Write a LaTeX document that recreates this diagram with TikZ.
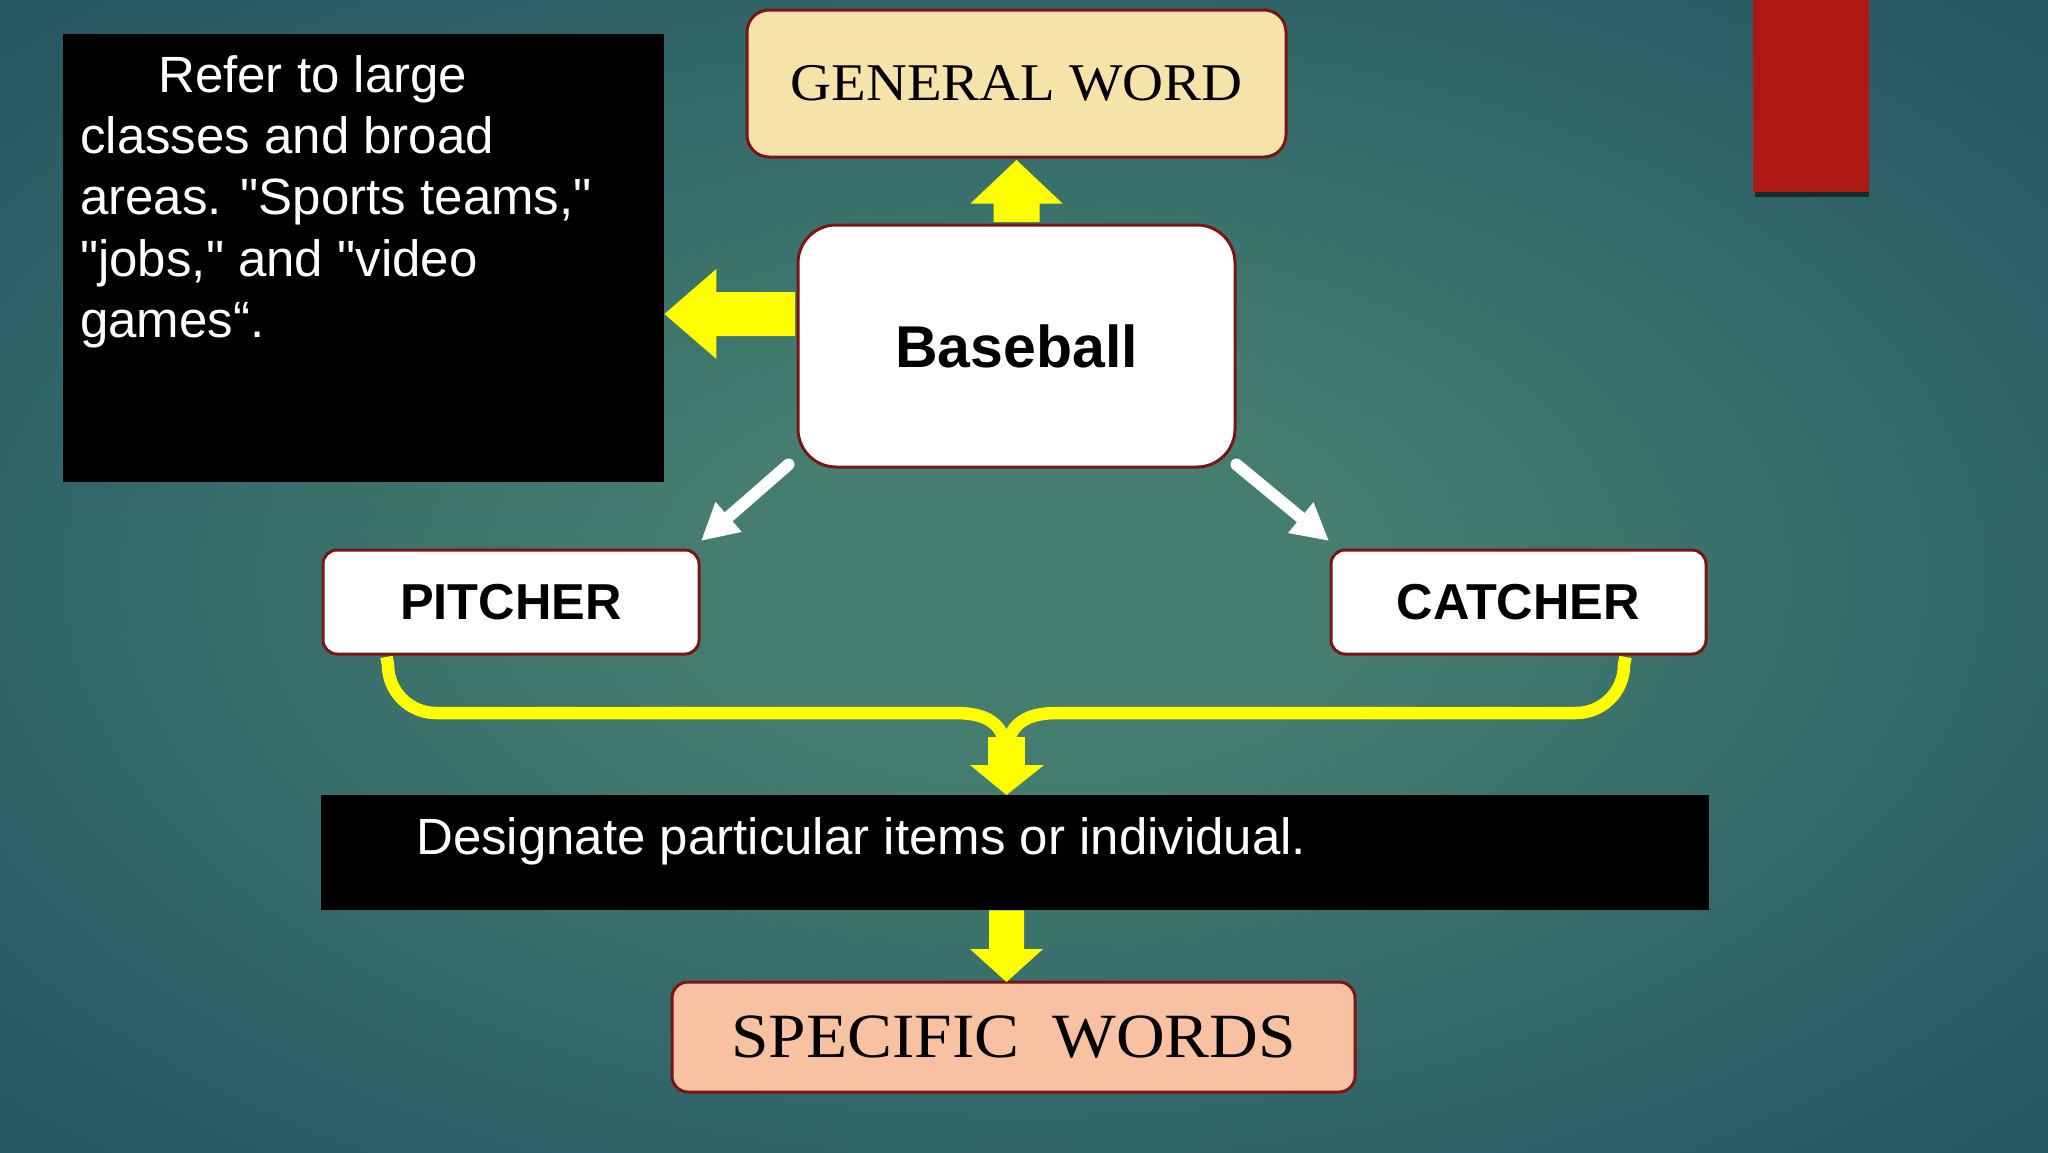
\documentclass[tikz,border=0pt]{standalone}
\usepackage{fontspec}
\setmainfont{Liberation Serif}
\newfontfamily\wideserif[FakeStretch=1.07]{Liberation Serif}
\newfontfamily\arial{Liberation Sans}
\usetikzlibrary{arrows.meta,calc}
\definecolor{bgc}{HTML}{457E70}
\definecolor{bgm}{HTML}{2D6167}
\definecolor{bge}{HTML}{1C4856}
\definecolor{bgk}{HTML}{113545}
\definecolor{bord}{HTML}{7B1515}
\definecolor{genfill}{HTML}{F5E3AA}
\definecolor{specfill}{HTML}{F8C1A2}
\definecolor{redbar}{HTML}{AE1812}
\definecolor{yel}{HTML}{FFFF00}
\pgfdeclareradialshading{bgshade}{\pgfpoint{0bp}{0bp}}{color(0bp)=(bgc); color(8bp)=(bgc); color(27bp)=(bgm); color(46bp)=(bge); color(72bp)=(bgk)}
\begin{document}
\begin{tikzpicture}[x=1pt,y=-1pt,
  wordbox/.style={draw=bord, line width=3pt, inner sep=0pt, align=center},
  ltext/.style={text=white, inner sep=0pt, font=\arial\fontsize{51}{61.4}\selectfont},
  boldtext/.style={font=\arial\bfseries\fontsize{#1}{#1}\selectfont},
  serifword/.style={font=\wideserif\fontsize{#1}{#1}\selectfont},
  blackbox/.style={fill=black, inner sep=0pt, anchor=north west},
  warrow/.style={draw=white, line width=12pt, line cap=round, -{Triangle[length=36pt,width=40pt,line width=0pt]}}
]
\shade[shading=bgshade] (0,0) rectangle (2048,1152);
\useasboundingbox (0,0) rectangle (2048,1152);

% red bar top right
\fill[black, opacity=0.55] (1755,0) rectangle (1869,197);
\node[fill=redbar, inner sep=0pt, minimum width=116pt, minimum height=192pt, anchor=north west] (bar) at (1753,0) {};

% black boxes
\node[blackbox, minimum width=601pt, minimum height=448pt] (lbox) at (63,34) {};
\node[blackbox, minimum width=1388pt, minimum height=115pt] (desbox) at (321,795) {};

% texts in left black box
\node[ltext, anchor=base west] (l1) at (158,92) {Refer to large};
\node[ltext, anchor=base west] (l2) at (80,153.4) {classes and broad};
\node[ltext, anchor=base west] (l3) at (80,214.8) {areas. "Sports teams,"};
\node[ltext, anchor=base west] (l4) at (80,276.2) {"jobs," and "video};
\node[ltext, anchor=base west] (l5) at (80,337.6) {games“.};
\node[ltext, anchor=base west] (destext) at (416,854) {Designate particular items or individual.};

% word boxes
\node[wordbox, fill=genfill, rounded corners=22pt, minimum width=539pt, minimum height=147pt,
      serifword=53] (gen) at (1016.5,83.5) {GENERAL WORD};
\node[wordbox, fill=white, rounded corners=38pt, minimum width=437pt, minimum height=242pt,
      boldtext=59] (base) at (1016.5,346) {Baseball};
\node[wordbox, fill=white, rounded corners=14pt, minimum width=376pt, minimum height=104pt,
      boldtext=50.5] (pitch) at (511,602) {PITCHER};
\node[wordbox, fill=white, rounded corners=14pt, minimum width=375pt, minimum height=104pt,
      boldtext=50.5] (catch) at (1518.5,602) {CATCHER};
\node[wordbox, fill=specfill, rounded corners=16pt, minimum width=683pt, minimum height=110pt,
      serifword=63] (spec) at (1013.5,1037) {SPECIFIC\hspace{33pt}WORDS};

% up arrow: Baseball -> GENERAL WORD
\fill[yel] ($(base.north)+(-23,-1.5)$) -- ($(gen.south)+(-23,45)$) -- ($(gen.south)+(-46,45)$)
  -- ($(gen.south)+(0,1.5)$) -- ($(gen.south)+(46,45)$) -- ($(gen.south)+(23,45)$)
  -- ($(base.north)+(23,-1.5)$) -- cycle;

% left arrow: Baseball -> left box
\coordinate (la) at ($(base.west)+(-1.5,-32)$);
\coordinate (lt) at (lbox.east |- la);
\fill[yel] ($(la)+(0,-22)$) -- ($(lt)+(52,-22)$) -- ($(lt)+(52,-45)$) -- (lt)
  -- ($(lt)+(52,45)$) -- ($(lt)+(52,22)$) -- ($(la)+(0,22)$) -- cycle;

% white arrows
\draw[warrow] ($(base.south west)+(-8,-4)$) -- ($(pitch.north east)+(1,-8)$);
\draw[warrow] ($(base.south east)+(0,-4)$) -- ($(catch.north west)+(-1,-8)$);

% yellow bracket
\coordinate (pb) at ($(pitch.south west)+(65,1.5)$);
\coordinate (cb) at ($(catch.south east)+(-82,1.5)$);
\coordinate (m) at (1006.5,748);
\draw[yel, line width=12.5pt] (pb) -- (388,665) .. controls (388,691.5) and (409.5,713) .. (436,713)
  -- (955,713) .. controls (985,713) and (1002,722) .. (m);
\draw[yel, line width=12.5pt] (cb) -- (1624,665) .. controls (1624,691.5) and (1602.5,713) .. (1576,713)
  -- (1058,713) .. controls (1028,713) and (1011,722) .. (m);
\fill[yel] (988,737) rectangle (1025,766);
\fill[yel] (970,765) -- (1044,765) -- (m |- desbox.north) -- cycle;

% down arrow: black box -> SPECIFIC WORDS
\coordinate (dd) at (m |- desbox.south);
\coordinate (ds) at ($(m |- spec.north)+(0,1.5)$);
\fill[yel] ($(dd)+(-17.5,0)$) -- ($(ds)+(-17.5,-33)$) -- ($(ds)+(-36.5,-33)$) -- (ds)
  -- ($(ds)+(36.5,-33)$) -- ($(ds)+(17.5,-33)$) -- ($(dd)+(17.5,0)$) -- cycle;
\end{tikzpicture}
\end{document}
